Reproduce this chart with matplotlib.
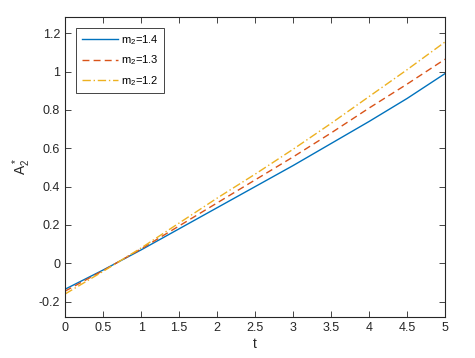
import numpy as np
import matplotlib
matplotlib.use('Agg')
import matplotlib.pyplot as plt
from matplotlib.ticker import FormatStrFormatter, FuncFormatter

t = [0, 0.5, 1, 1.5, 2, 2.5, 3, 3.5, 4, 4.5, 5]
a_m14 = [-0.135, -0.035, 0.070, 0.180, 0.290, 0.400, 0.510, 0.625, 0.740, 0.860, 0.990]
a_m13 = [-0.145, -0.038, 0.075, 0.195, 0.315, 0.435, 0.555, 0.680, 0.810, 0.935, 1.065]
a_m12 = [-0.160, -0.042, 0.080, 0.210, 0.340, 0.465, 0.595, 0.730, 0.870, 1.010, 1.155]
labels = ['m$_2$=1.4', 'm$_2$=1.3', 'm$_2$=1.2']

plt.rcParams['font.family'] = ['Liberation Sans', 'DejaVu Sans']
plt.rcParams['mathtext.fontset'] = 'custom'
plt.rcParams['mathtext.rm'] = 'Liberation Sans'
plt.rcParams['mathtext.it'] = 'Liberation Sans'
plt.rcParams['mathtext.default'] = 'regular'

axcol = '#262626'
fig = plt.figure(figsize=(4.75, 3.58), dpi=100)
ax = fig.add_axes([0.137, 0.1145, 0.800, 0.838])

ax.plot(t, a_m14, color='#0072BD', lw=1.0, ls='-', label=labels[0])
ax.plot(t, a_m13, color='#D95319', lw=1.0, ls=(0, (5, 3)), label=labels[1])
ax.plot(t, a_m12, color='#EDB120', lw=1.0, ls=(0, (6, 2, 1, 2)), label=labels[2])

ax.set_xlim(0, 5)
ax.set_ylim(-0.28, 1.285)
ax.set_xticks(np.arange(0, 5.01, 0.5))
ax.set_yticks(np.arange(-0.2, 1.21, 0.2))
fmt = FuncFormatter(lambda v, p: '%g' % round(v, 2))
ax.xaxis.set_major_formatter(fmt)
ax.yaxis.set_major_formatter(fmt)
ax.tick_params(direction='in', top=True, right=True, labelsize=9,
               colors=axcol, length=4, width=0.6)
for s in ax.spines.values():
    s.set_color(axcol)
    s.set_linewidth(0.8)

ax.set_xlabel('t', fontsize=10, color=axcol, labelpad=2)
ax.set_ylabel('A$_2^*$', fontsize=10, color=axcol, labelpad=4)

leg = ax.legend(loc='upper left', bbox_to_anchor=(0.03, 0.965), fontsize=8,
                fancybox=False, edgecolor=axcol, framealpha=1,
                handlelength=3.2, handletextpad=0.3, borderpad=0.5,
                labelspacing=0.6, borderaxespad=0)
leg.get_frame().set_linewidth(0.6)

fig.savefig('out.png', dpi=100)
